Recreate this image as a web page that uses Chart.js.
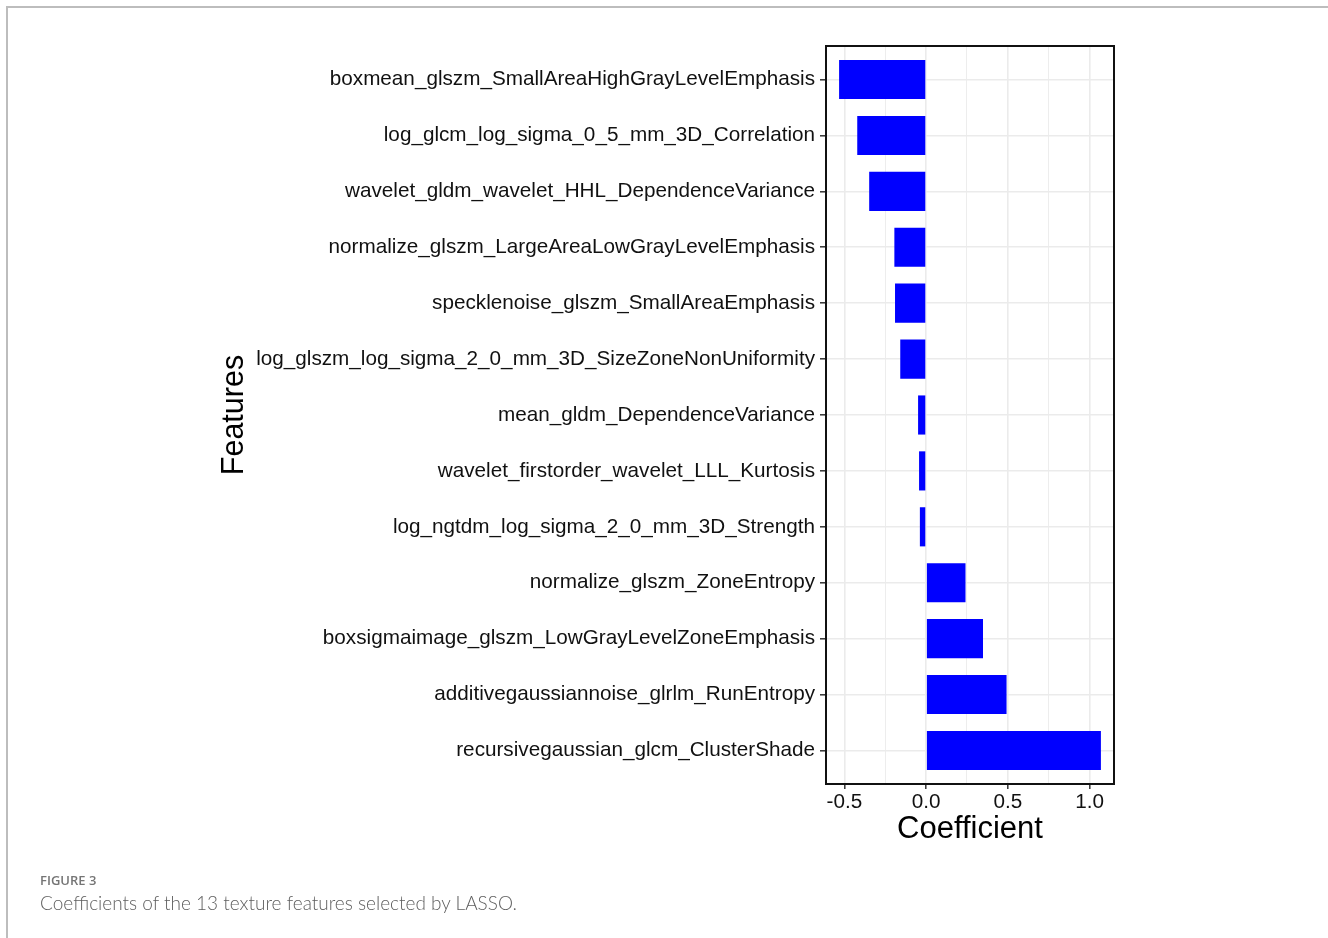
<!DOCTYPE html>
<html>
<head>
<meta charset="utf-8">
<title>LASSO coefficients</title>
<script src="https://cdn.jsdelivr.net/npm/chart.js@4.4.1/dist/chart.umd.min.js"></script>
<style>
  html, body { margin: 0; padding: 0; background: #fff; }
  body { width: 1328px; height: 938px; position: relative; overflow: hidden; }
  #frame { position: absolute; left: 6px; top: 6px; right: 0; bottom: 0;
           border-top: 2px solid #bdbdbd; border-left: 2px solid #bdbdbd; }
  #wrap { position: absolute; left: 0; top: 0; width: 1328px; height: 938px; }
  .fig-num { position: absolute; left: 40px; top: 874px; font: 600 13px/1 "Open Sans", sans-serif;
             color: #757575; white-space: nowrap; }
  .fig-cap { position: absolute; left: 40px; top: 893px; font: 300 19px/1 "Lato", sans-serif;
             color: #5e5e5e; white-space: nowrap; }
</style>
</head>
<body>
<div id="frame"></div>
<div id="wrap"><canvas id="chart" width="1328" height="938"></canvas></div>
<div class="fig-num">FIGURE 3</div>
<div class="fig-cap">Coefficients of the 13 texture features selected by LASSO.</div>

<script>
// Selected texture features, top to bottom
const features = [
  "boxmean_glszm_SmallAreaHighGrayLevelEmphasis",
  "log_glcm_log_sigma_0_5_mm_3D_Correlation",
  "wavelet_gldm_wavelet_HHL_DependenceVariance",
  "normalize_glszm_LargeAreaLowGrayLevelEmphasis",
  "specklenoise_glszm_SmallAreaEmphasis",
  "log_glszm_log_sigma_2_0_mm_3D_SizeZoneNonUniformity",
  "mean_gldm_DependenceVariance",
  "wavelet_firstorder_wavelet_LLL_Kurtosis",
  "log_ngtdm_log_sigma_2_0_mm_3D_Strength",
  "normalize_glszm_ZoneEntropy",
  "boxsigmaimage_glszm_LowGrayLevelZoneEmphasis",
  "additivegaussiannoise_glrlm_RunEntropy",
  "recursivegaussian_glcm_ClusterShade"
];

// LASSO coefficient of each feature
const coefficients = [
  -0.532, -0.421, -0.348, -0.194, -0.190, -0.158,
  -0.049, -0.043, -0.038, 0.241, 0.348, 0.492, 1.069
];

// Coefficient axis ticks: labelled majors and unlabelled minors
const majorTicks = [-0.5, 0.0, 0.5, 1.0];
const minorTicks = [-0.25, 0.25, 0.75];
const majorTickLabels = ["-0.5", "0.0", "0.5", "1.0"];

// ggplot-like 5% expansion of the value range (zero included)
const lo = Math.min(0, ...coefficients);
const hi = Math.max(0, ...coefficients);
const pad = (hi - lo) * 0.05;

const isMajor = v => majorTicks.some(m => Math.abs(m - v) < 1e-9);
const fontFamily = '"Liberation Sans", Arial, Helvetica, sans-serif';

const panelBorder = {
  id: 'panelBorder',
  afterDraw(chart) {
    const { ctx, chartArea: a } = chart;
    ctx.save();
    ctx.strokeStyle = '#111';
    ctx.lineWidth = 2;
    ctx.strokeRect(a.left, a.top, a.right - a.left, a.bottom - a.top);
    ctx.restore();
  }
};

new Chart(document.getElementById('chart'), {
  type: 'bar',
  data: {
    datasets: [{
      data: coefficients.map((v, i) => ({ x: v, y: i })),
      backgroundColor: '#0000ff',
      borderWidth: 0,
      categoryPercentage: 1,
      barPercentage: 0.7
    }]
  },
  options: {
    indexAxis: 'y',
    responsive: false,
    animation: false,
    layout: { padding: { left: 200, right: 214, top: 46, bottom: 74 } },
    plugins: { legend: { display: false }, tooltip: { enabled: false } },
    scales: {
      x: {
        type: 'linear',
        min: lo - pad,
        max: hi + pad,
        afterBuildTicks(scale) {
          scale.ticks = [...majorTicks, ...minorTicks].sort((a, b) => a - b).map(v => ({ value: v }));
        },
        afterFit(scale) { scale.height = 80; },
        ticks: {
          autoSkip: false,
          maxRotation: 0,
          padding: 1,
          color: '#111',
          font: { family: fontFamily, size: 20.7 },
          callback(v) {
            const k = majorTicks.findIndex(m => Math.abs(m - v) < 1e-9);
            return k >= 0 ? majorTickLabels[k] : '';
          }
        },
        grid: {
          color: '#ebebeb',
          lineWidth: c => (isMajor(c.tick.value) ? 1.6 : 0.9),
          tickLength: 5,
          tickWidth: 1.5,
          tickColor: c => (isMajor(c.tick.value) ? '#333' : 'rgba(0,0,0,0)')
        },
        border: { display: false },
        title: {
          display: true,
          text: 'Coefficient',
          color: '#000',
          font: { family: fontFamily, size: 31 },
          padding: { top: 0, bottom: 16 }
        }
      },
      y: {
        type: 'linear',
        reverse: true,
        offset: false,
        min: -0.6,
        max: features.length - 1 + 0.6,
        afterBuildTicks(scale) {
          scale.ticks = features.map((_, i) => ({ value: i }));
        },
        afterFit(scale) { scale.width = 626; },
        ticks: {
          autoSkip: false,
          padding: 5,
          color: '#111',
          font: { family: fontFamily, size: 20.7 },
          callback: v => features[v]
        },
        grid: {
          offset: false,
          color: '#ebebeb',
          lineWidth: 1.6,
          tickLength: 6,
          tickWidth: 1.5,
          tickColor: '#333'
        },
        border: { display: false },
        title: {
          display: true,
          text: 'Features',
          color: '#000',
          font: { family: fontFamily, size: 30.5 },
          padding: { top: 16, bottom: 0 }
        }
      }
    }
  },
  plugins: [panelBorder]
});
</script>
</body>
</html>
